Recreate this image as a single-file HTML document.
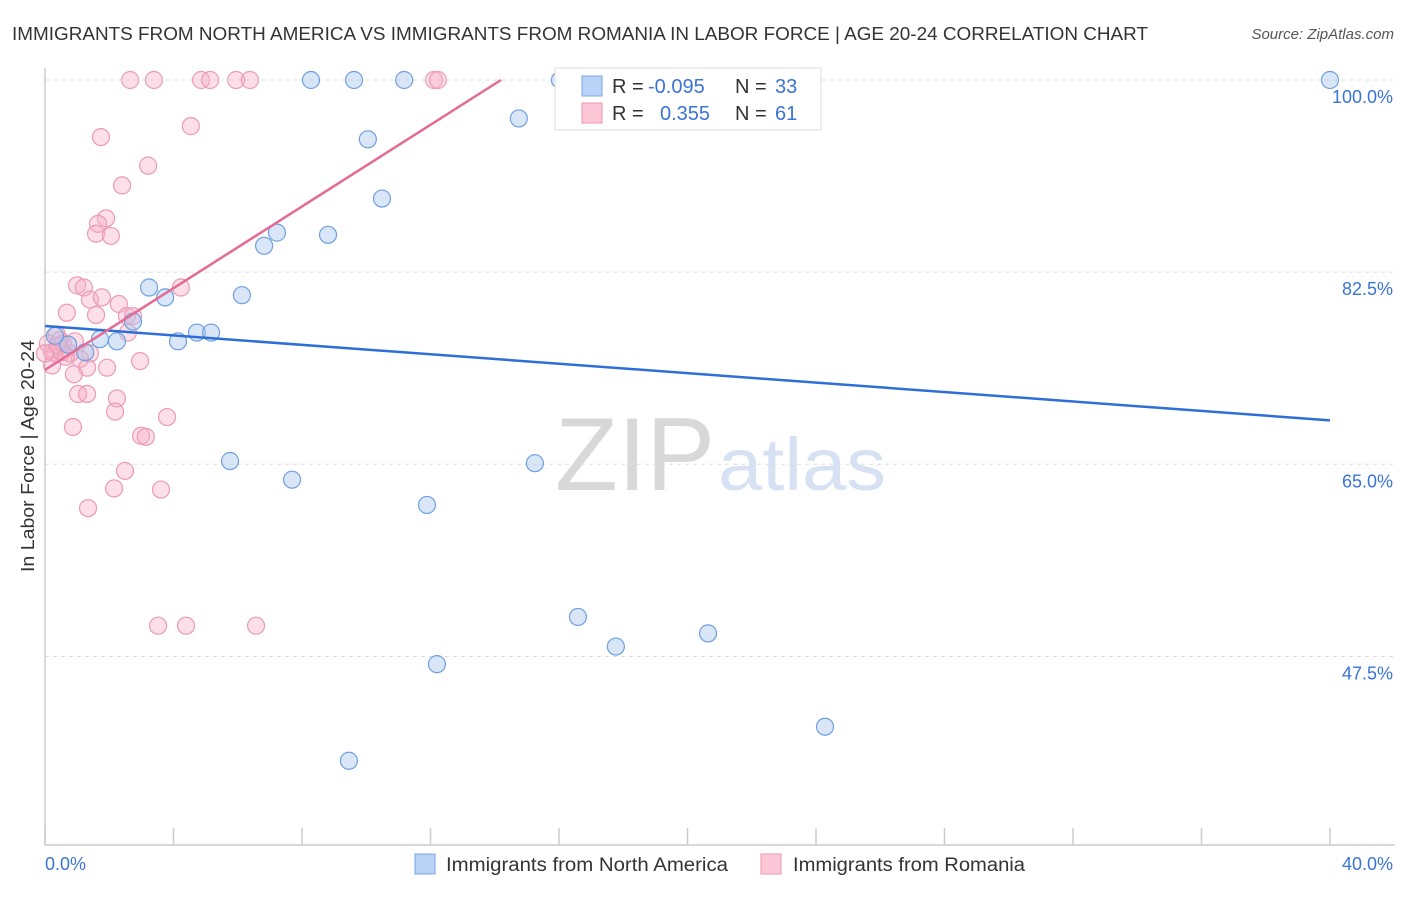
<!DOCTYPE html>
<html><head><meta charset="utf-8">
<style>
body{margin:0;background:#fff;font-family:"Liberation Sans",sans-serif;}
svg text{font-family:"Liberation Sans",sans-serif;}
</style></head>
<body>
<svg id="chart" width="1406" height="892" xmlns="http://www.w3.org/2000/svg">
<text x="12" y="40" font-size="18" fill="#333" textLength="1136" lengthAdjust="spacingAndGlyphs">IMMIGRANTS FROM NORTH AMERICA VS IMMIGRANTS FROM ROMANIA IN LABOR FORCE | AGE 20-24 CORRELATION CHART</text>
<text x="1394" y="39" font-size="15" fill="#555" font-style="italic" text-anchor="end">Source: ZipAtlas.com</text>
<text x="555" y="490" font-size="104" fill="#d8d8d8" textLength="160" lengthAdjust="spacingAndGlyphs" font-family="Liberation Serif">ZIP</text>
<text x="718" y="490" font-size="74" fill="#d6e2f3" textLength="168" lengthAdjust="spacingAndGlyphs">atlas</text>
<g id="grid"></g>
<line x1="45" y1="68" x2="45" y2="845" stroke="#ccc" stroke-width="1.5"/>
<line x1="45" y1="845" x2="1395" y2="845" stroke="#ccc" stroke-width="1.5"/>
<g id="ticks"></g>
<text x="34" y="456" font-size="18" fill="#333" text-anchor="middle" textLength="232" lengthAdjust="spacingAndGlyphs" transform="rotate(-90 34 456)">In Labor Force | Age 20-24</text>
<text x="45" y="870" font-size="18" fill="#3a74d6">0.0%</text>
<text x="1393" y="870" font-size="18" fill="#3a74d6" text-anchor="end">40.0%</text>
<g id="pts"></g>
<g id="lines"></g>
<g>
<rect x="555" y="68" width="266" height="62" fill="#fff" stroke="#ddd"/>
<rect x="582" y="76" width="20" height="20" fill="#b8d3f5" stroke="#7aa6e6"/>
<rect x="582" y="103" width="20" height="20" fill="#fcc7d7" stroke="#ee96b2"/>
<text x="612" y="93" font-size="20" fill="#333">R = <tspan fill="#3a74d6" x="648">-0.095</tspan></text>
<text x="735" y="93" font-size="20" fill="#333">N = <tspan fill="#3a74d6" x="775">33</tspan></text>
<text x="612" y="120" font-size="20" fill="#333">R = <tspan fill="#3a74d6" x="660">0.355</tspan></text>
<text x="735" y="120" font-size="20" fill="#333">N = <tspan fill="#3a74d6" x="775">61</tspan></text>
</g>
<g>
<rect x="415" y="854" width="20" height="20" fill="#b8d3f5" stroke="#7aa6e6"/>
<text x="446" y="871" font-size="19" fill="#333" textLength="282" lengthAdjust="spacingAndGlyphs">Immigrants from North America</text>
<rect x="761" y="854" width="20" height="20" fill="#fcc7d7" stroke="#ee96b2"/>
<text x="793" y="871" font-size="19" fill="#333" textLength="232" lengthAdjust="spacingAndGlyphs">Immigrants from Romania</text>
</g>
</svg>
<script>
const blueX=[40,16.03,11.18,9.62,8.28,14.75,10.05,10.49,7.22,6.82,8.81,3.24,3.74,6.13,2.74,4.73,5.17,4.14,2.24,1.71,0.72,1.25,0.31,5.76,7.69,15.25,11.89,16.59,17.77,20.64,12.2,24.28,9.46];
const blueY=[100,100,100,100,100,96.5,94.6,89.2,86.1,84.9,85.9,81.1,80.2,80.4,78.0,77.0,77.0,76.2,76.2,76.4,75.9,75.2,76.7,65.3,63.6,65.1,61.3,51.1,48.4,49.6,46.8,41.1,38.0];
const pinkX=[2.65,3.39,4.86,5.14,5.95,6.38,12.11,12.23,1.74,4.54,3.21,2.40,1.90,1.65,1.59,2.05,1.00,1.21,4.23,1.40,1.77,2.30,0.68,1.59,2.55,2.74,2.58,0.37,0.47,0.09,0.22,0.31,0.53,0.78,0.56,1.40,1.09,0.22,1.31,1.93,2.96,0.90,1.03,1.31,2.24,2.18,3.80,0.87,2.99,3.14,2.49,2.15,3.61,1.34,3.52,4.39,6.57,0,0.4,0.65,0.93];
const pinkY=[100,100,100,100,100,100,100,100,94.8,95.8,92.2,90.4,87.4,86.9,86.0,85.8,81.3,81.1,81.1,80.0,80.2,79.6,78.8,78.6,78.5,78.5,77.0,76.8,76.3,76.0,75.2,75.1,75.2,75.1,76.0,75.1,74.6,74.0,73.8,73.8,74.4,73.2,71.4,71.4,71.0,69.8,69.3,68.4,67.6,67.5,64.4,62.8,62.7,61.0,50.3,50.3,50.3,75.1,75.8,74.8,76.2];
const blueTrend=[77.6,69.0]; // y at x=0 and x=40
const pinkTrend=[73.6,1.86]; // intercept, slope per %
const yTicks=[100,82.5,65,47.5];
const yTickLabels=["100.0%","82.5%","65.0%","47.5%"];
const xTicks=[0,4,8,12,16,20,24,28,32,36,40];
const NS="http://www.w3.org/2000/svg";
const sx=v=>45+v*32.125;
const sy=v=>80+(100-v)*10.98;
function mk(t,a,p){const e=document.createElementNS(NS,t);for(const k in a)e.setAttribute(k,a[k]);p.appendChild(e);return e;}
const grid=document.getElementById('grid');
yTicks.forEach((v,i)=>{
 const l=mk('line',{x1:45,x2:1395,y1:sy(v),y2:sy(v),stroke:'#ddd','stroke-dasharray':'4,4'},grid);
 
 
 const t=mk('text',{x:1393,y:sy(v)+23,'font-size':18,fill:'#3a74d6','text-anchor':'end'},grid);
 t.textContent=yTickLabels[i];
 
 
});
const ticks=document.getElementById('ticks');
xTicks.forEach(v=>{
 const l=mk('line',{x1:sx(v),x2:sx(v),y1:828,y2:845,stroke:'#ccc','stroke-width':1.5},ticks);
 
 
});
const pts=document.getElementById('pts');
pinkX.forEach((x,i)=>{
 const c=mk('circle',{cx:sx(x),cy:sy(pinkY[i]),r:8.5,fill:'rgba(248,176,198,0.4)',stroke:'#ec9ab5','stroke-width':1.2},pts);
 
 
});
blueX.forEach((x,i)=>{
 const c=mk('circle',{cx:sx(x),cy:sy(blueY[i]),r:8.5,fill:'rgba(170,200,240,0.45)',stroke:'#6f9fe0','stroke-width':1.2},pts);
 
 
});
const lines=document.getElementById('lines');
const bl=mk('line',{x1:sx(0),y1:sy(blueTrend[0]),x2:sx(40),y2:sy(blueTrend[1]),stroke:'#2d6fd6','stroke-width':2.5},lines);


const xe=(100-pinkTrend[0])/pinkTrend[1];
const pl=mk('line',{x1:sx(0),y1:sy(pinkTrend[0]),x2:sx(xe),y2:sy(100),stroke:'#e46b95','stroke-width':2.5},lines);


</script>
</body></html>
